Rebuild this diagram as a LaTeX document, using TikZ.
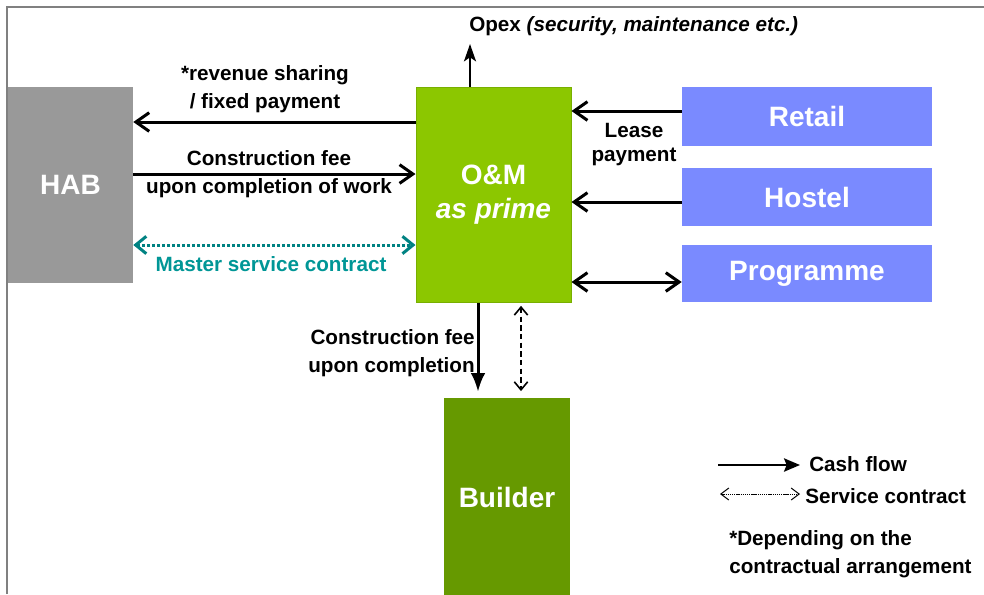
\documentclass[tikz,border=0pt]{standalone}
\usepackage{fontspec}
\setmainfont{Liberation Sans}
\usetikzlibrary{arrows.meta}

\definecolor{habgray}{RGB}{153,153,153}
\definecolor{omgreen}{RGB}{140,199,0}
\definecolor{omedge}{RGB}{120,175,0}
\definecolor{buildgreen}{RGB}{102,153,0}
\definecolor{tenantblue}{RGB}{122,138,255}
\definecolor{contractteal}{RGB}{0,130,130}
\definecolor{contracttext}{RGB}{0,150,150}
\definecolor{framegray}{RGB}{128,128,128}

\tikzset{
  box/.style={inner sep=0pt, text=white, align=center,
    font=\fontsize{21}{26}\selectfont\bfseries},
  lbl/.style={inner sep=0pt, align=center,
    font=\fontsize{15.5}{21}\selectfont\bfseries},
  cash/.style={line width=2.25pt, -{Straight Barb[length=10pt,width=14pt]}},
  cashboth/.style={line width=2.25pt, {Straight Barb[length=10pt,width=14pt]}-{Straight Barb[length=10pt,width=14pt]}},
  master/.style={contractteal, line width=2.25pt, dash pattern=on 2.25pt off 1.5pt,
    {Straight Barb[length=8pt,width=13pt]}-{Straight Barb[length=8pt,width=13pt]}},
  service/.style={line width=1.2pt, dash pattern=on 4pt off 2.5pt,
    {Straight Barb[length=6pt,width=10pt]}-{Straight Barb[length=6pt,width=10pt]}},
}

\begin{document}
\begin{tikzpicture}[x=0.75pt, y=-0.75pt]

  \useasboundingbox (0,0) rectangle (984,594);

  % frame
  \draw[framegray, line width=1.5pt] (7,594) -- (7,7) -- (984,7);

  % parties
  \node[box, fill=habgray, minimum width=93.75pt, minimum height=147pt] (hab) at (70.5,185) {HAB};
  \node[box, fill=omgreen, draw=omedge, line width=0.75pt, minimum width=116.25pt, minimum height=161.25pt]
    (om) at (493.5,194.5) {O\&M\\\textit{as prime}};
  \node[box, fill=buildgreen, minimum width=94.5pt, minimum height=148.5pt] (builder) at (507,497) {Builder};
  \foreach \name/\txt/\y/\h in {retail/Retail/116.5/44.25pt, hostel/Hostel/197/43.5pt, prog/Programme/273.5/42.75pt} {
    \node[box, fill=tenantblue, minimum width=187.5pt, minimum height=\h] (\name) at (807,\y) {\txt};
  }

  % opex
  \coordinate (opextip) at (470,44);
  \draw[line width=1.6pt, -{Stealth[length=13pt,width=9pt,inset=3pt]}] (om.north -| opextip) -- (opextip);
  \node[lbl, anchor=west] (opex) at (469,26) {Opex \textit{(security, maintenance etc.)}};

  % HAB <-> O&M
  \draw[cash] (om.west |- 0,122) -- (hab.east |- 0,122);
  \node[lbl] (revlbl) at (265,89) {*revenue sharing\\/ fixed payment};
  \draw[cash] (hab.east |- 0,174) -- (om.west |- 0,174);
  \node[lbl] (feelbl) at (269,174) {Construction fee\\upon completion of work};
  \draw[master] (hab.east |- 0,245) -- (om.west |- 0,245);
  \node[lbl, text=contracttext] (masterlbl) at (271,264) {Master service contract};

  % tenants
  \draw[cash] (retail.west |- 0,111) -- (om.east |- 0,111);
  \draw[cash] (hostel.west |- 0,202) -- (om.east |- 0,202);
  \draw[cashboth] (om.east |- 0,282) -- (prog.west |- 0,282);
  \node[lbl, font=\fontsize{15.5}{18}\selectfont\bfseries] (leaselbl) at (634,145) {Lease\\payment};

  % O&M -> builder
  \draw[line width=2.25pt, shorten >=4.5pt, -{Latex[length=14pt,width=11pt]}] (om.south -| 478,0) -- (builder.north -| 478,0);
  \node[lbl, align=right, anchor=east] (downlbl) at (475,353) {Construction fee\\upon completion};
  \draw[service, shorten <=2.5pt, shorten >=5pt] (om.south -| 521,0) -- (builder.north -| 521,0);

  % legend
  \coordinate (cashA) at (718,465);
  \coordinate (cashB) at (800,465);
  \draw[line width=1.5pt, -{Stealth[length=12pt,width=10pt,inset=2pt]}] (cashA) -- (cashB);
  \node[lbl, anchor=west] (cashlbl) at (809,464) {Cash flow};
  \coordinate (svcA) at (720,494);
  \coordinate (svcB) at (800,494);
  \draw[line width=0.75pt, dash pattern=on 1pt off 0.6pt,
    {Straight Barb[length=6pt,width=9pt]}-{Straight Barb[length=6pt,width=9pt]}] (svcA) -- (svcB);
  \node[lbl, anchor=west] (svclbl) at (805,496) {Service contract};
  \node[lbl, align=left, anchor=west] (notelbl) at (729,554) {*Depending on the\\contractual arrangement};

\end{tikzpicture}
\end{document}
